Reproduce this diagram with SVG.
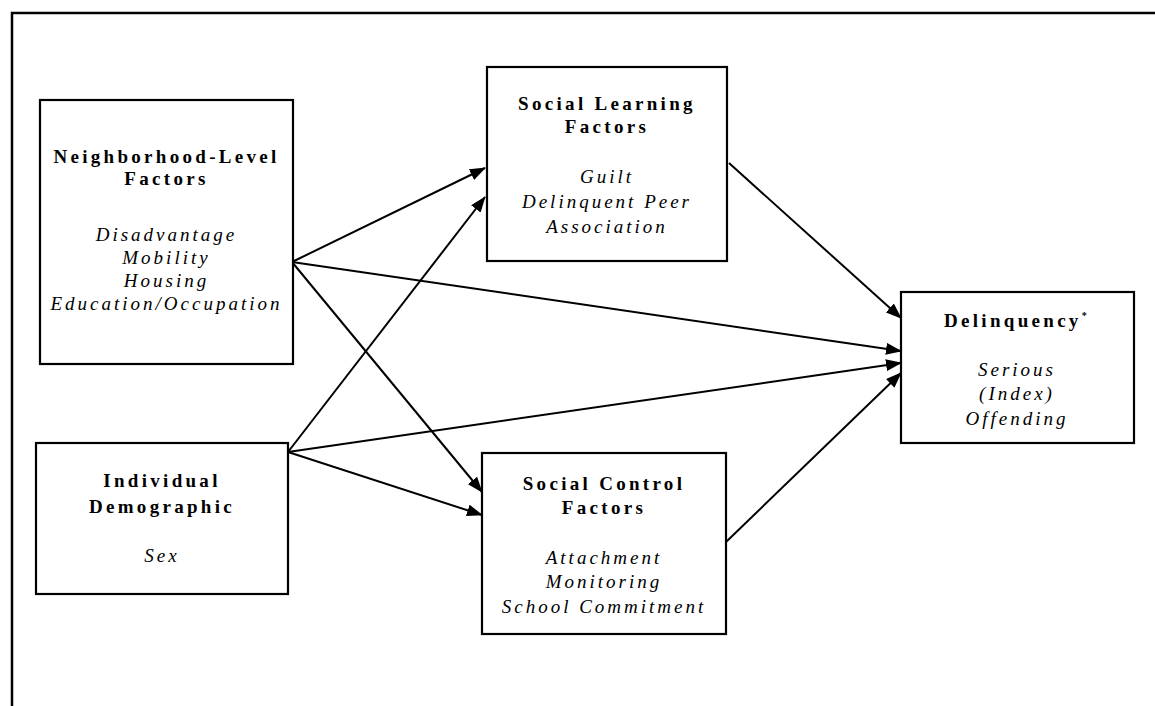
<svg xmlns="http://www.w3.org/2000/svg" width="1155" height="706" viewBox="0 0 1155 706">
<style>
.box{fill:#fff;stroke:#000;stroke-width:2.2}
.t{font-family:"Liberation Serif","Times New Roman",serif;font-weight:bold;font-size:19px;letter-spacing:3.3px;text-anchor:middle;fill:#000}
.i{font-family:"Liberation Serif","Times New Roman",serif;font-style:italic;font-size:19px;letter-spacing:3px;text-anchor:middle;fill:#000}
.c{stroke:#000;stroke-width:2;fill:none;marker-end:url(#ah)}
</style>
<defs>
<marker id="ah" markerUnits="userSpaceOnUse" markerWidth="16" markerHeight="12" refX="15" refY="6" orient="auto">
<path d="M0,0 L16,6 L0,12 Z" fill="#000"/>
</marker>
</defs>
<rect width="1155" height="706" fill="#fff"/>
<path d="M12,706 V13 H1155" fill="none" stroke="#000" stroke-width="2.5"/>
<g id="connectors">
<line class="c" x1="292" y1="262" x2="485" y2="168"/>
<line class="c" x1="292" y1="262" x2="482" y2="492"/>
<line class="c" x1="292" y1="262" x2="901" y2="351"/>
<line class="c" x1="288" y1="452" x2="485" y2="197"/>
<line class="c" x1="288" y1="452" x2="482" y2="515"/>
<line class="c" x1="288" y1="452" x2="901" y2="363"/>
<line class="c" x1="729" y1="163" x2="901" y2="318"/>
<line class="c" x1="726" y1="542" x2="901" y2="373"/>
</g>
<g id="neighborhood">
<rect class="box" x="40" y="100" width="253" height="264"/>
<text class="t" x="166.5" y="163">Neighborhood-Level</text>
<text class="t" x="166.5" y="185">Factors</text>
<text class="i" x="166.5" y="241">Disadvantage</text>
<text class="i" x="166.5" y="264">Mobility</text>
<text class="i" x="166.5" y="287">Housing</text>
<text class="i" x="166.5" y="310">Education/Occupation</text>
</g>
<g id="individual">
<rect class="box" x="36" y="443" width="252" height="151"/>
<text class="t" x="162" y="487">Individual</text>
<text class="t" x="162" y="513">Demographic</text>
<text class="i" x="162" y="562">Sex</text>
</g>
<g id="social-learning">
<rect class="box" x="487" y="67" width="240" height="194"/>
<text class="t" x="607" y="110">Social Learning</text>
<text class="t" x="607" y="133">Factors</text>
<text class="i" x="607" y="183">Guilt</text>
<text class="i" x="607" y="208">Delinquent Peer</text>
<text class="i" x="607" y="233">Association</text>
</g>
<g id="social-control">
<rect class="box" x="482" y="453" width="244" height="181"/>
<text class="t" x="604" y="490">Social Control</text>
<text class="t" x="604" y="514">Factors</text>
<text class="i" x="604" y="564">Attachment</text>
<text class="i" x="604" y="588">Monitoring</text>
<text class="i" x="604" y="613">School Commitment</text>
</g>
<g id="delinquency">
<rect class="box" x="901" y="292" width="233" height="151"/>
<text class="t" x="1017" y="327">Delinquency<tspan font-size="10" dy="-8">*</tspan></text>
<text class="i" x="1017" y="376">Serious</text>
<text class="i" x="1017" y="400">(Index)</text>
<text class="i" x="1017" y="425">Offending</text>
</g>
</svg>
